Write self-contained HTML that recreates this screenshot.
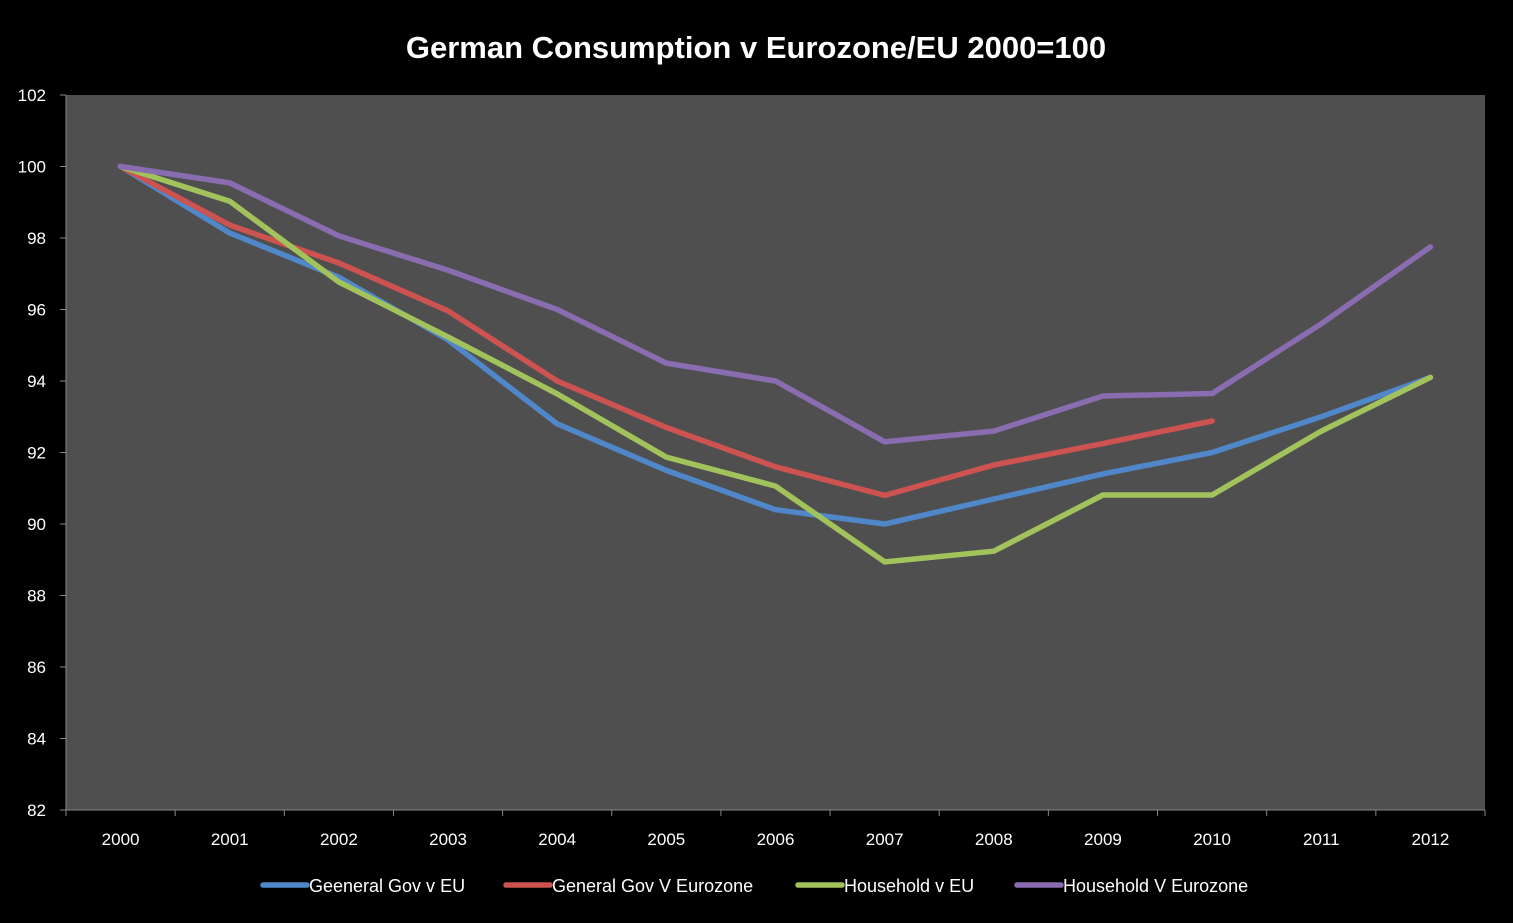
<!DOCTYPE html>
<html><head><meta charset="utf-8"><style>
body{margin:0;background:#000;}
svg{display:block;font-family:"Liberation Sans",sans-serif;}
</style></head><body>
<svg id="chart" width="1513" height="923" viewBox="0 0 1513 923">
<rect x="0" y="0" width="1513" height="923" fill="#000"/>
<text x="756" y="58" fill="#fff" font-size="31" font-weight="bold" text-anchor="middle">German Consumption v Eurozone/EU 2000=100</text>
<rect x="66" y="95" width="1419" height="715" fill="#4f4f4f"/>
<g id="axes"></g>
<g id="series"></g>
<g id="legend"></g>
</svg>
<script>
const categories=["2000","2001","2002","2003","2004","2005","2006","2007","2008","2009","2010","2011","2012"];
const yTicks=[82,84,86,88,90,92,94,96,98,100,102];
const seriesNames=["Geeneral Gov v EU","General Gov V Eurozone","Household v EU","Household V Eurozone"];
const seriesColors=["#4f87c9","#cd5350","#a2c35c","#8a6cb0"];
const govEU=[100,98.14,96.9,95.15,92.8,91.5,90.4,90.0,90.7,91.4,92.0,93.0,94.1];
const govEZ=[100,98.36,97.3,95.96,94.0,92.7,91.6,90.8,91.65,92.25,92.88,null,null];
const hhEU=[100,99.03,96.77,95.23,93.64,91.87,91.06,88.94,89.24,90.81,90.81,92.6,94.1];
const hhEZ=[100,99.54,98.06,97.1,96.0,94.5,94.0,92.3,92.6,93.58,93.65,95.6,97.75];
const allSeries=[govEU,govEZ,hhEU,hhEZ];
const L=66,R=1485,T=95,B=810,yMin=82,yMax=102;
const bw=(R-L)/categories.length;
const xs=i=>L+(i+0.5)*bw;
const ys=v=>B-(v-yMin)/(yMax-yMin)*(B-T);
const NS="http://www.w3.org/2000/svg";
function mk(t,a,p){const e=document.createElementNS(NS,t);for(const k in a)e.setAttribute(k,a[k]);p.appendChild(e);return e;}
const ax=document.getElementById('axes');
let e=mk('line',{x1:L,y1:T,x2:L,y2:B,stroke:'#888','stroke-width':1},ax);


e=mk('line',{x1:L,y1:B,x2:R,y2:B,stroke:'#888','stroke-width':1},ax);


yTicks.forEach(v=>{
 const t=mk('line',{x1:L-6,y1:ys(v),x2:L,y2:ys(v),stroke:'#888'},ax);
 
 
 const l=mk('text',{x:L-20,y:ys(v)+6,fill:'#fff','font-size':17,'text-anchor':'end'},ax);
 l.textContent=v;
 
 
});
for(let i=0;i<=categories.length;i++){
 const t=mk('line',{x1:L+i*bw,y1:B,x2:L+i*bw,y2:B+6,stroke:'#888'},ax);
 
 
}
categories.forEach((c,i)=>{
 const l=mk('text',{x:xs(i),y:845,fill:'#fff','font-size':17,'text-anchor':'middle'},ax);
 l.textContent=c;
 
 
});
const sg=document.getElementById('series');
allSeries.forEach((s,k)=>{
 let d='';let pen=false;
 s.forEach((v,i)=>{if(v==null){pen=false;return;}d+=(pen?'L':'M')+xs(i).toFixed(1)+','+ys(v).toFixed(1);pen=true;});
 const p=mk('path',{d:d,fill:'none',stroke:seriesColors[k],'stroke-width':5.5,'stroke-linejoin':'round','stroke-linecap':'round'},sg);
 
 
});
const lg=document.getElementById('legend');
const lx=[263,506,798,1017];
seriesNames.forEach((n,k)=>{
 const g=mk('g',{},lg);
 
 
 mk('line',{x1:lx[k],y1:885,x2:lx[k]+44,y2:885,stroke:seriesColors[k],'stroke-width':5.5,'stroke-linecap':'round'},g);
 const t=mk('text',{x:lx[k]+46,y:892,fill:'#fff','font-size':18},g);
 t.textContent=n;
});
</script>
</body></html>
